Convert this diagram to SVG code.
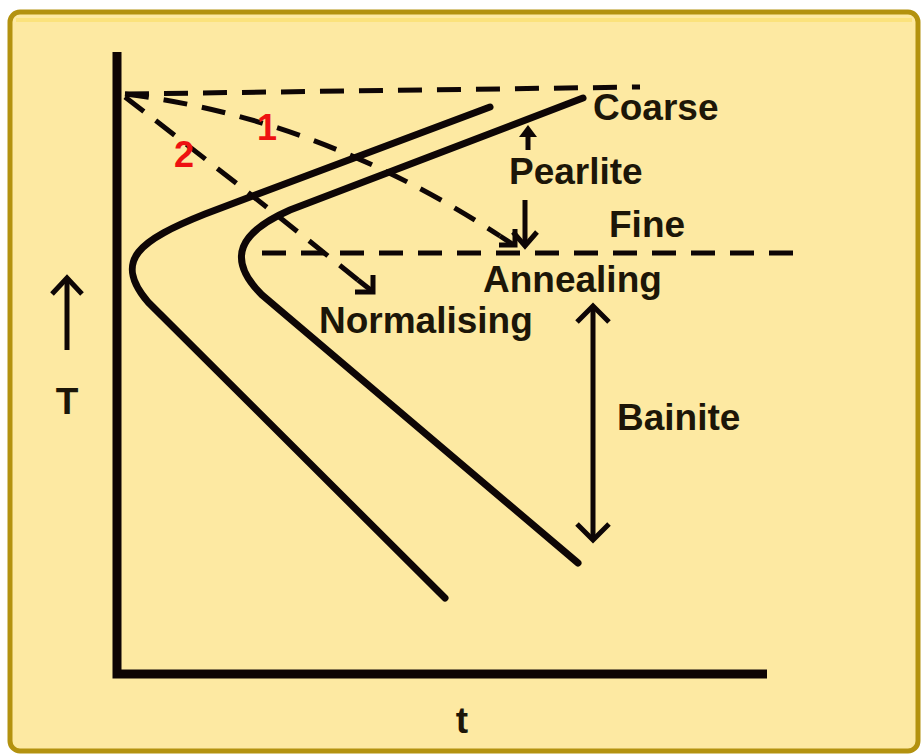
<svg xmlns="http://www.w3.org/2000/svg" width="922" height="755" viewBox="0 0 922 755">
<style>
.lbl{font-family:"Liberation Sans",Arial,sans-serif;font-weight:bold;font-size:37px;fill:#1c1608}
.num{font-family:"Liberation Sans",Arial,sans-serif;font-weight:bold;font-size:36px;fill:#ee1111}
.curve{fill:none;stroke:#0e0606;stroke-width:7;stroke-linecap:round}
.dash{fill:none;stroke:#0e0606;stroke-width:5;stroke-dasharray:24 15}
.arr{fill:none;stroke:#0e0606;stroke-width:5;stroke-linecap:butt}
.axis{fill:none;stroke:#0e0404;stroke-width:9}
</style>
<rect width="922" height="755" fill="#ffffff"/>
<rect x="10" y="12" width="908" height="739" rx="10" fill="#fde9a2" stroke="#b3920f" stroke-width="5"/>
<line x1="16" y1="20" x2="912" y2="20" stroke="#fbe27c" stroke-width="4"/>
<g id="axes">
<path class="axis" d="M117,52 V674 H767"/>
</g>
<g id="connectors">
<path class="dash" d="M125,94 L640,87"/>
<path class="dash" d="M262,253 L800,253"/>
<path class="dash" d="M125,94 Q320,118 500,236"/>
<path class="arr" d="M500,236 L514,245" stroke-width="4"/>
<path class="arr" d="M499,245 H515 V229" stroke-width="4"/>
<path class="dash" d="M125,97 Q240,185 358,280"/>
<path class="arr" d="M358,280 L372,291" stroke-width="4"/>
<path class="arr" d="M355,292 H373 V275" stroke-width="4"/>
<path class="arr" d="M528,150 V132"/>
<path d="M519,137 L528,125 L537,137 Z" fill="#0e0606"/>
<path class="arr" d="M525,200 V244"/>
<path class="arr" d="M513,232 L525,246 L537,232"/>
<path class="arr" d="M593,308 V538"/>
<path class="arr" d="M577,322 L593,306 L609,322"/>
<path class="arr" d="M577,524 L593,540 L609,524"/>
<path class="arr" d="M67,350 V278"/>
<path class="arr" d="M52,294 L67,278 L82,294"/>
</g>
<g id="curveA">
<path class="curve" d="M490,107 L205,214 C140,240 112,260 148,302 L445,598"/>
</g>
<g id="curveB">
<path class="curve" d="M583,98 L290,210 C240,232 225,258 262,295 L578,563"/>
</g>
<g id="labels">
<text class="lbl" x="593" y="120">Coarse</text>
<text class="lbl" x="509" y="184">Pearlite</text>
<text class="lbl" x="609" y="237">Fine</text>
<text class="lbl" x="483" y="292">Annealing</text>
<text class="lbl" x="319" y="333">Normalising</text>
<text class="lbl" x="617" y="430">Bainite</text>
<text class="lbl" x="67" y="414" text-anchor="middle">T</text>
<text class="lbl" x="462" y="733" text-anchor="middle">t</text>
<text class="num" x="267" y="140" text-anchor="middle">1</text>
<text class="num" x="184" y="167" text-anchor="middle">2</text>
</g>
</svg>
